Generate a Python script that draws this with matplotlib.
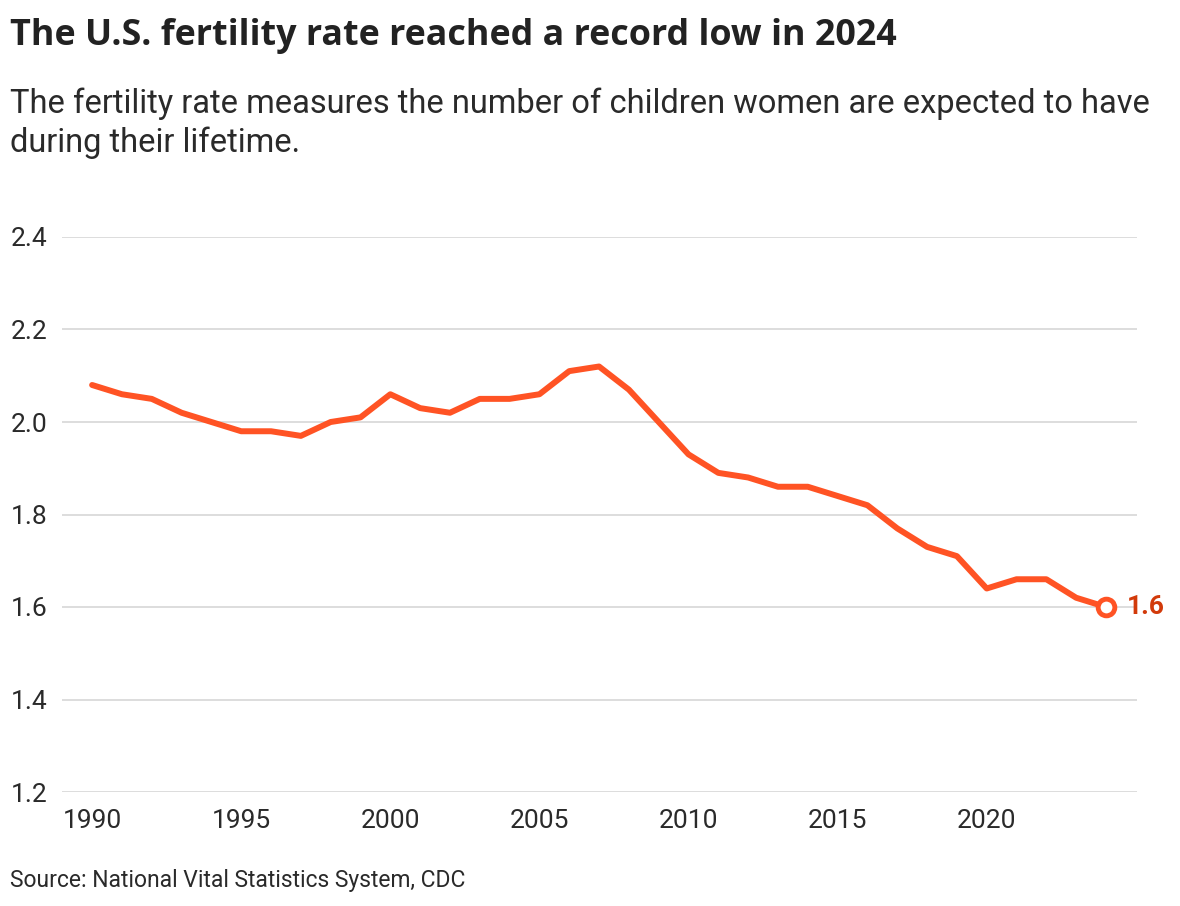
import matplotlib
matplotlib.use("Agg")
import matplotlib.pyplot as plt

years = list(range(1990, 2025))
rates = [2.08, 2.06, 2.05, 2.02, 2.00, 1.98, 1.98, 1.97, 2.00, 2.01,
         2.06, 2.03, 2.02, 2.05, 2.05, 2.06, 2.11, 2.12, 2.07, 2.00,
         1.93, 1.89, 1.88, 1.86, 1.86, 1.84, 1.82, 1.77, 1.73, 1.71,
         1.64, 1.66, 1.66, 1.62, 1.60]
yticks = [1.2, 1.4, 1.6, 1.8, 2.0, 2.2, 2.4]
xticks = [1990, 1995, 2000, 2005, 2010, 2015, 2020]
end_label = "1.6"

title = "The U.S. fertility rate reached a record low in 2024"
subtitle = "The fertility rate measures the number of children women are expected to have\nduring their lifetime."
source = "Source: National Vital Statistics System, CDC"

plt.rcParams['font.family'] = ['Roboto', 'DejaVu Sans']

W, H = 1180, 906
fig = plt.figure(figsize=(W/100, H/100), dpi=100)
ax = fig.add_axes([62/W, (H-792)/H, (1137-62)/W, (792-237)/H])

line_color = '#FF5324'
ax.plot(years, rates, color=line_color, lw=4.3, solid_joinstyle='round', solid_capstyle='round', zorder=3)
ax.plot(years[-1], rates[-1], 'o', ms=12, mfc='white', mec=line_color, mew=3.5, zorder=4)
ax.annotate(end_label, (years[-1], rates[-1]), xytext=(15, 0), textcoords='offset points',
            ha='left', va='center', fontsize=19, fontweight='bold', color='#D23A0A')

ax.set_xlim(1988.99, 2025.04)
ax.set_ylim(1.2, 2.4)
ax.set_yticks(yticks)
ax.set_yticklabels([f"{v:.1f}" for v in yticks])
ax.set_xticks(xticks)
ax.set_xticklabels([str(v) for v in xticks])
ax.grid(axis='y', color='#DADADA', lw=1.3, zorder=0)
ax.grid(axis='x', visible=False)
for s in ax.spines.values():
    s.set_visible(False)
ax.tick_params(axis='both', length=0, labelsize=19, labelcolor='#2A2A2A')
ax.tick_params(axis='y', pad=37)
for lbl in ax.get_yticklabels():
    lbl.set_horizontalalignment('left')
ax.tick_params(axis='x', pad=12)
ax.patch.set_visible(False)

fig.text(10/W, 1 - 36/H, title, fontsize=25.8, fontweight='bold', color='#222222', va='center', ha='left',
         family=['Open Sans', 'DejaVu Sans'])
fig.text(10/W, 1 - 123/H, subtitle, fontsize=23.5, color='#2A2A2A', va='center', ha='left', linespacing=1.27)
fig.text(10/W, 1 - 880/H, source, fontsize=16.5, color='#2A2A2A', va='center', ha='left')

fig.savefig("out.png", dpi=100, facecolor='white')
